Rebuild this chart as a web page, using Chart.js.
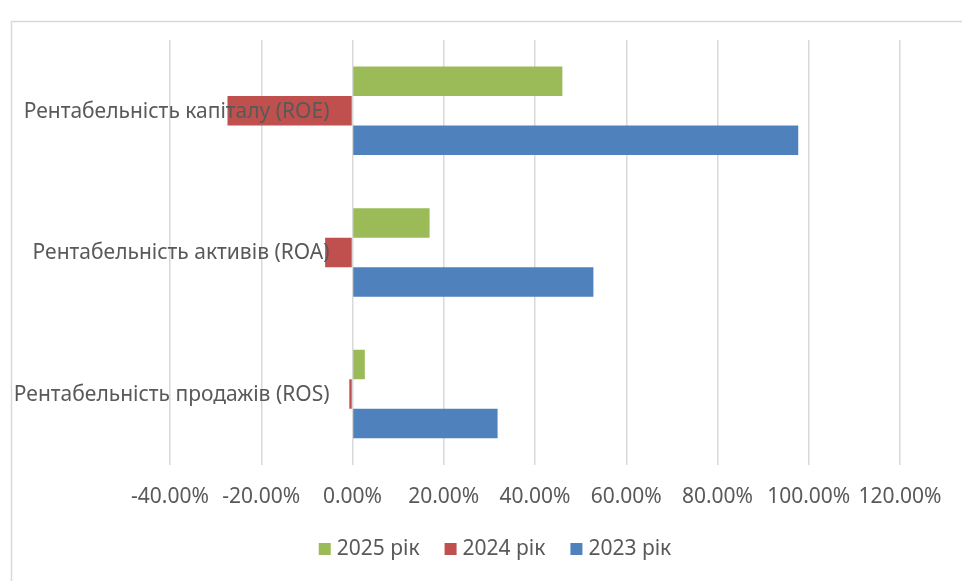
<!DOCTYPE html>
<html>
<head>
<meta charset="utf-8">
<script src="https://cdn.jsdelivr.net/npm/chart.js@4/dist/chart.umd.min.js"></script>
<style>
  html, body { margin: 0; padding: 0; background: #ffffff; }
  #wrap { width: 962px; height: 581px; position: relative; }
</style>
</head>
<body>
<div id="wrap"><canvas id="c" width="962" height="581"></canvas></div>
<script>
// Profitability ratios by year
const categories = [
  'Рентабельність капіталу (ROE)',
  'Рентабельність активів (ROA)',
  'Рентабельність продажів (ROS)'
];
const seriesNames = ['2025 рік', '2024 рік', '2023 рік'];
const values2025 = [0.460, 0.169, 0.027];
const values2024 = [-0.274, -0.060, -0.007];
const values2023 = [0.977, 0.528, 0.318];
const seriesColors = ['#9BBB59', '#C0504D', '#4F81BD'];

const axisMin = -0.4;
const axisMax = 1.2;
const axisStep = 0.2;

const FONT = "'Noto Sans', sans-serif";
const TEXT_COLOR = '#595959';

// White background and the light frame around the chart
const framePlugin = {
  id: 'frame',
  beforeDraw(chart) {
    const ctx = chart.ctx;
    ctx.save();
    ctx.fillStyle = '#ffffff';
    ctx.fillRect(0, 0, chart.width, chart.height);
    ctx.strokeStyle = '#d9d9d9';
    ctx.lineWidth = 1.5;
    ctx.strokeRect(11.5, 21.5, chart.width + 20, chart.height + 20);
    ctx.restore();
  }
};

// Category names sit just left of the zero line, drawn over the bars
const categoryLabelPlugin = {
  id: 'categoryLabels',
  afterDatasetsDraw(chart) {
    const ctx = chart.ctx;
    const xs = chart.scales.x;
    const ys = chart.scales.y;
    const x0 = xs.getPixelForValue(0);
    ctx.save();
    ctx.font = '21px ' + FONT;
    ctx.fillStyle = TEXT_COLOR;
    ctx.textAlign = 'right';
    ctx.textBaseline = 'middle';
    chart.data.labels.forEach((lab, i) => {
      const y = ys.getPixelForValue(i);
      ctx.fillText(lab, x0 - 23, y + 1);
    });
    ctx.restore();
  }
};

// Legend row under the axis
const legendPlugin = {
  id: 'bottomLegend',
  afterDraw(chart) {
    const ctx = chart.ctx;
    ctx.save();
    ctx.font = '21px ' + FONT;
    ctx.textBaseline = 'middle';
    ctx.textAlign = 'left';
    const box = 12, gapBox = 6, gapItem = 25;
    const items = chart.data.datasets.map(ds => ({
      label: ds.label, color: ds.backgroundColor, w: ctx.measureText(ds.label).width
    }));
    const total = items.reduce((s, it) => s + box + gapBox + it.w, 0) + gapItem * (items.length - 1);
    let x = 495 - total / 2;
    const y = 549;
    items.forEach(it => {
      ctx.fillStyle = it.color;
      ctx.fillRect(x, y - box / 2, box, box);
      x += box + gapBox;
      ctx.fillStyle = TEXT_COLOR;
      ctx.fillText(it.label, x, y);
      x += it.w + gapItem;
    });
    ctx.restore();
  }
};

const seriesValues = [values2025, values2024, values2023];

new Chart(document.getElementById('c'), {
  type: 'bar',
  data: {
    labels: categories,
    datasets: seriesNames.map((name, i) => ({
      label: name,
      data: seriesValues[i],
      backgroundColor: seriesColors[i],
      borderWidth: 0,
      barPercentage: 1.0,
      categoryPercentage: 0.625
    }))
  },
  options: {
    indexAxis: 'y',
    responsive: false,
    animation: false,
    layout: { padding: { left: 170, right: 62, top: 40, bottom: 51 } },
    plugins: {
      legend: { display: false },
      tooltip: { enabled: false }
    },
    scales: {
      x: {
        min: axisMin,
        max: axisMax,
        border: { display: false },
        grid: { color: '#d9d9d9', lineWidth: 1.5, drawTicks: false },
        ticks: {
          stepSize: axisStep,
          padding: 20,
          color: TEXT_COLOR,
          font: { family: FONT, size: 21 },
          maxRotation: 0,
          autoSkip: false,
          callback: v => (v * 100).toFixed(2) + '%'
        }
      },
      y: {
        display: false
      }
    }
  },
  plugins: [framePlugin, categoryLabelPlugin, legendPlugin]
});
</script>
</body>
</html>
